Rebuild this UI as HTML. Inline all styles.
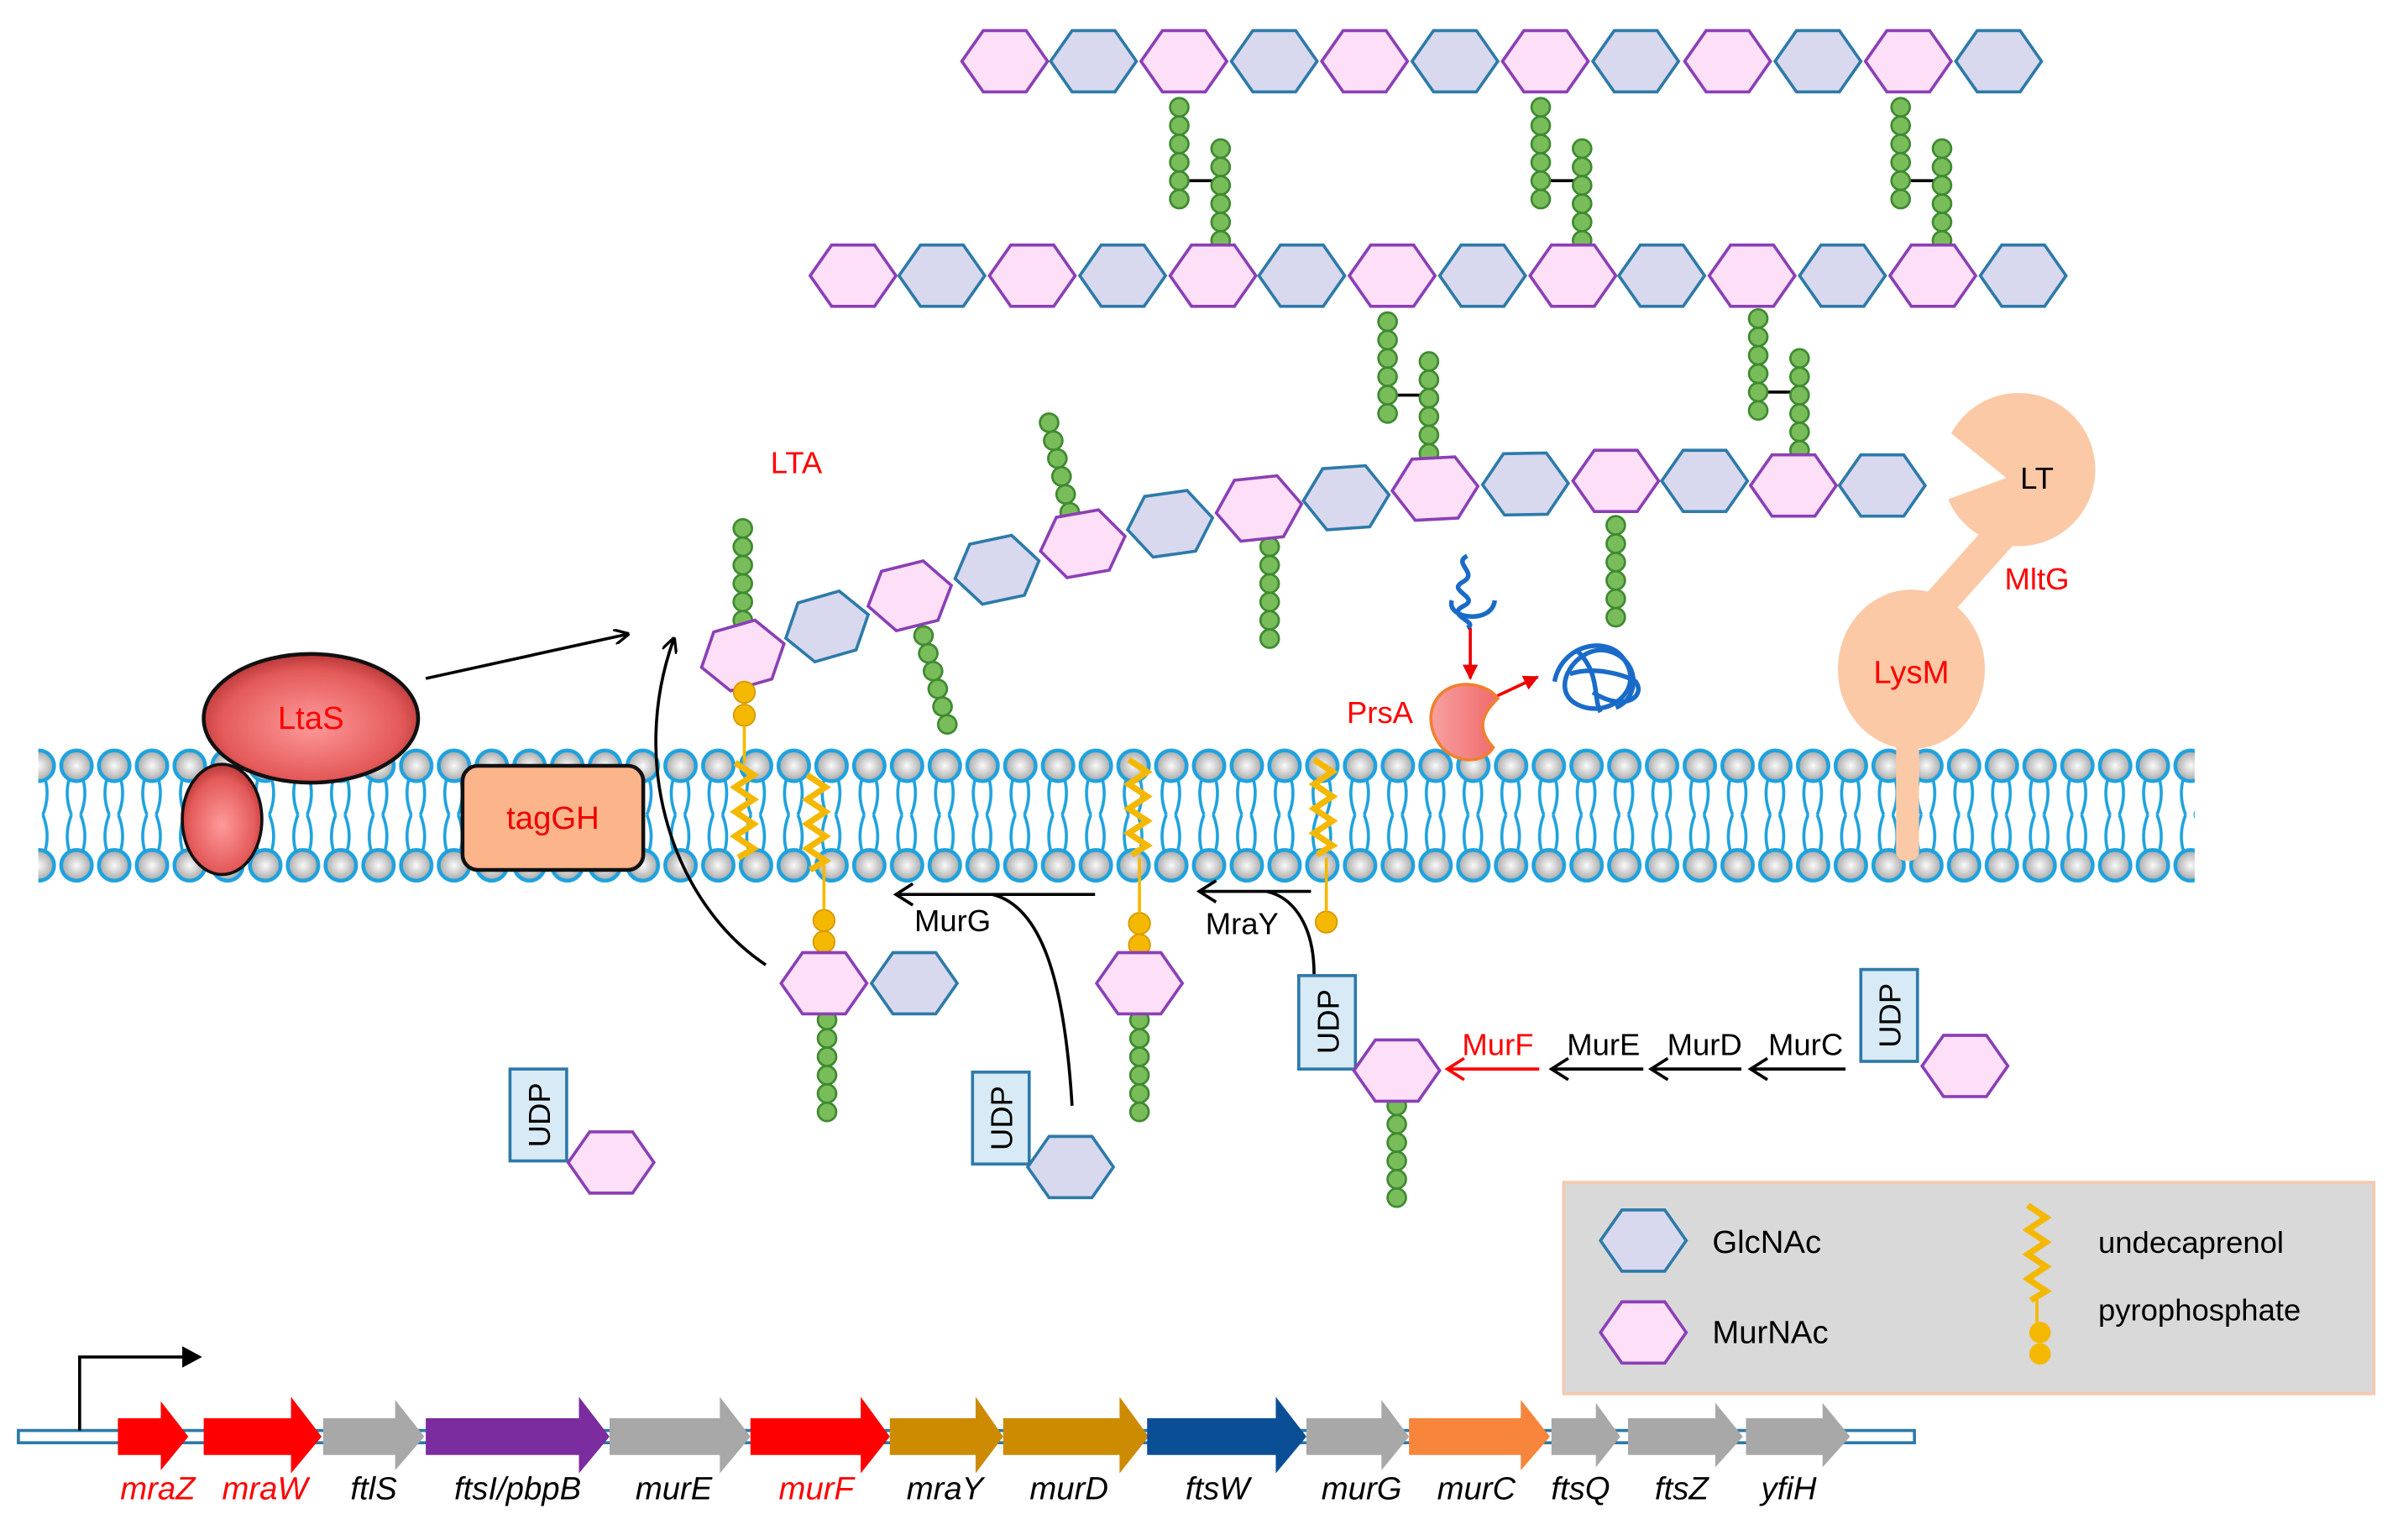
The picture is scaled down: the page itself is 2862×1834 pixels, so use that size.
<!DOCTYPE html>
<html><head><meta charset="utf-8"><style>
html,body{margin:0;padding:0;background:#fff;}
svg{display:block;font-family:"Liberation Sans",Arial,sans-serif;}
</style></head><body>
<svg width="2862" height="1834" viewBox="0 0 1569 1005.5" preserveAspectRatio="none" xmlns="http://www.w3.org/2000/svg">
<defs>
<radialGradient id="hg" cx="0.5" cy="0.5" r="0.5"><stop offset="0" stop-color="#fafafa"/><stop offset="1" stop-color="#a8a8a8"/></radialGradient>
<radialGradient id="rg" cx="0.5" cy="0.55" r="0.6"><stop offset="0" stop-color="#ff9a9a"/><stop offset="0.7" stop-color="#e45a5a"/><stop offset="1" stop-color="#a82a2a"/></radialGradient>
<linearGradient id="pg" x1="0" x2="1"><stop offset="0" stop-color="#f7a0a0"/><stop offset="1" stop-color="#f06a6a"/></linearGradient>
<pattern id="mem" patternUnits="userSpaceOnUse" x="13" y="485" width="24.65" height="95">
<g fill="none" stroke="#1fa2de" stroke-width="2">
<path d="M8,22 Q4,34 9,47 M16,22 Q20,34 15,47 M8,72 Q4,60 9,47 M16,72 Q20,60 15,47"/>
</g>
<circle cx="12.3" cy="15" r="10" fill="url(#hg)" stroke="#1fa2de" stroke-width="2.5"/>
<circle cx="12.3" cy="80" r="10" fill="url(#hg)" stroke="#1fa2de" stroke-width="2.5"/>
</pattern>
<polygon id="hx" points="-28,0 -14,-20 14,-20 28,0 14,20 -14,20"/>
<g id="P"><use href="#hx" fill="#fde0f8" stroke="#8b3fb5" stroke-width="2"/></g>
<g id="B"><use href="#hx" fill="#d8d8ef" stroke="#2d7aa8" stroke-width="2"/></g>
<g id="bd"><circle r="6" fill="#79bd5a" stroke="#3f8a32" stroke-width="1.5"/></g>
<g id="ch5"><use href="#bd" y="0"/><use href="#bd" y="12"/><use href="#bd" y="24"/><use href="#bd" y="36"/><use href="#bd" y="48"/><use href="#bd" y="60"/></g>
<g id="zz"><path d="M-6,0 L6,8 L-6,16 L6,24 L-6,32 L6,40 L-6,48 L6,56 L-4,62" fill="none" stroke="#f5b800" stroke-width="4"/></g>
<marker id="ah" markerWidth="10" markerHeight="10" refX="9" refY="5" orient="auto" markerUnits="userSpaceOnUse"><path d="M0,0 L10,5 L0,10" fill="none" stroke="#000" stroke-width="1.8"/></marker>
<marker id="ahb" markerWidth="14" markerHeight="16" refX="12" refY="8" orient="auto" markerUnits="userSpaceOnUse"><path d="M1,1 L12,8 L1,15" fill="none" stroke="#000" stroke-width="2"/></marker>
<marker id="ahr" markerWidth="14" markerHeight="16" refX="12" refY="8" orient="auto" markerUnits="userSpaceOnUse"><path d="M1,1 L12,8 L1,15" fill="none" stroke="#f00" stroke-width="2"/></marker>
<marker id="rf" markerWidth="10" markerHeight="10" refX="9" refY="5" orient="auto" markerUnits="userSpaceOnUse"><path d="M0,0 L10,5 L0,10z" fill="#e00"/></marker>
</defs>

<g>
<line x1="770" y1="118" x2="797" y2="118" stroke="#000" stroke-width="2"/>
<line x1="1006" y1="118" x2="1033" y2="118" stroke="#000" stroke-width="2"/>
<line x1="1241" y1="118" x2="1268" y2="118" stroke="#000" stroke-width="2"/>
<line x1="906" y1="258" x2="933" y2="258" stroke="#000" stroke-width="2"/>
<line x1="1148" y1="256" x2="1175" y2="256" stroke="#000" stroke-width="2"/>
<use href="#ch5" x="770" y="70"/><use href="#ch5" x="797" y="97"/>
<use href="#ch5" x="1006" y="70"/><use href="#ch5" x="1033" y="97"/>
<use href="#ch5" x="1241" y="70"/><use href="#ch5" x="1268" y="97"/>
<use href="#ch5" x="906" y="210"/><use href="#ch5" x="933" y="236"/>
<use href="#ch5" x="1148" y="208"/><use href="#ch5" x="1175" y="234"/>
</g>
<g>
<use href="#P" x="656" y="40"/><use href="#B" x="714" y="40"/><use href="#P" x="773" y="40"/><use href="#B" x="832" y="40"/>
<use href="#P" x="891" y="40"/><use href="#B" x="950" y="40"/><use href="#P" x="1009" y="40"/><use href="#B" x="1068" y="40"/>
<use href="#P" x="1128" y="40"/><use href="#B" x="1187" y="40"/><use href="#P" x="1246" y="40"/><use href="#B" x="1305" y="40"/>
</g>
<g>
<use href="#P" x="557" y="180"/><use href="#B" x="615" y="180"/><use href="#P" x="674" y="180"/><use href="#B" x="733" y="180"/>
<use href="#P" x="792" y="180"/><use href="#B" x="850" y="180"/><use href="#P" x="909" y="180"/><use href="#B" x="968" y="180"/>
<use href="#P" x="1027" y="180"/><use href="#B" x="1085" y="180"/><use href="#P" x="1144" y="180"/><use href="#B" x="1203" y="180"/>
<use href="#P" x="1262" y="180"/><use href="#B" x="1321" y="180"/>
</g>
<use href="#ch5" x="485" y="345"/>
<g transform="translate(685,276) rotate(-13)"><use href="#ch5"/></g>
<g transform="translate(603,415) rotate(-15)"><use href="#ch5"/></g>
<use href="#ch5" x="829" y="357"/>
<use href="#ch5" x="1055" y="343"/>
<g>
<g transform="translate(485,428) rotate(-16)"><use href="#P"/></g>
<g transform="translate(540,409) rotate(-16)"><use href="#B"/></g>
<g transform="translate(594,389) rotate(-14)"><use href="#P"/></g>
<g transform="translate(651,372) rotate(-12)"><use href="#B"/></g>
<g transform="translate(707,355) rotate(-10)"><use href="#P"/></g>
<g transform="translate(764,342) rotate(-8)"><use href="#B"/></g>
<g transform="translate(822,332) rotate(-6)"><use href="#P"/></g>
<g transform="translate(879,325) rotate(-4)"><use href="#B"/></g>
<g transform="translate(937,319) rotate(-3)"><use href="#P"/></g>
<g transform="translate(996,316) rotate(-1)"><use href="#B"/></g>
<use href="#P" x="1055" y="314"/><use href="#B" x="1113" y="314"/><use href="#P" x="1171" y="317"/><use href="#B" x="1229" y="317"/>
</g>
<text x="520" y="309" font-size="20" fill="#f00" text-anchor="middle">LTA</text>

<rect x="25" y="485" width="1408" height="95" fill="url(#mem)"/>

<g fill="#fcc9a6">
<path d="M1318,305 m-44,-22 A50,50 0 1 1 1272,326 L1310,312 Z"/>
<path d="M1300,340 L1318,352 L1268,408 L1250,396 Z"/>
<ellipse cx="1248" cy="437" rx="48" ry="52"/>
<rect x="1238" y="480" width="15" height="82" rx="6"/>
</g>
<text x="1330" y="319" font-size="20" text-anchor="middle">LT</text>
<text x="1330" y="385" font-size="20" fill="#f00" text-anchor="middle">MltG</text>
<text x="1248" y="446" font-size="21" fill="#f00" text-anchor="middle">LysM</text>

<ellipse cx="145" cy="535" rx="26" ry="36" fill="url(#rg)" stroke="#111" stroke-width="2"/>
<ellipse cx="203" cy="469" rx="70" ry="42" fill="url(#rg)" stroke="#111" stroke-width="2.5"/>
<text x="203" y="476" font-size="21" fill="#f00" text-anchor="middle">LtaS</text>
<rect x="302" y="500" width="118" height="68" rx="10" fill="#fcb48a" stroke="#111" stroke-width="2.5"/>
<text x="361" y="541" font-size="21" fill="#e00" text-anchor="middle">tagGH</text>
<line x1="278" y1="443" x2="410" y2="414" stroke="#000" stroke-width="2" marker-end="url(#ah)"/>
<path d="M500,630 C440,590 410,500 440,417" fill="none" stroke="#000" stroke-width="2" marker-end="url(#ah)"/>

<g fill="#f5b800" stroke="#d59a00" stroke-width="1">
<circle cx="486" cy="452" r="7"/><circle cx="486" cy="467" r="7"/>
<circle cx="538" cy="601" r="7"/><circle cx="538" cy="615" r="7"/>
<circle cx="744" cy="603" r="7"/><circle cx="744" cy="617" r="7"/>
<circle cx="866" cy="602" r="7"/>
</g>
<g stroke="#f5b800" stroke-width="2">
<line x1="486" y1="474" x2="486" y2="498"/>
<line x1="538" y1="565" x2="538" y2="594"/>
<line x1="744" y1="560" x2="744" y2="596"/>
<line x1="866" y1="560" x2="866" y2="595"/>
</g>
<use href="#zz" x="486" y="498"/><use href="#zz" x="533" y="506"/><use href="#zz" x="743" y="496"/><use href="#zz" x="864" y="496"/>
<use href="#ch5" x="540" y="666"/><use href="#P" x="538" y="642"/><use href="#B" x="597" y="642"/>
<use href="#ch5" x="744" y="666"/><use href="#P" x="744" y="642"/>

<line x1="715" y1="584" x2="585" y2="584" stroke="#000" stroke-width="2" marker-end="url(#ahb)"/>
<path d="M700,722 C695,640 680,592 648,584" fill="none" stroke="#000" stroke-width="2"/>
<text x="622" y="608" font-size="20" text-anchor="middle">MurG</text>
<line x1="856" y1="582" x2="783" y2="582" stroke="#000" stroke-width="2" marker-end="url(#ahb)"/>
<path d="M858,636 C858,605 845,586 827,582" fill="none" stroke="#000" stroke-width="2"/>
<text x="811" y="610" font-size="20" text-anchor="middle">MraY</text>

<g fill="#d8eaf6" stroke="#2d7aa8" stroke-width="2">
<rect x="333" y="698" width="37" height="60"/>
<rect x="635" y="700" width="37" height="60"/>
<rect x="848" y="637" width="37" height="61"/>
<rect x="1215" y="633" width="37" height="60"/>
</g>
<g font-size="20" text-anchor="middle">
<text transform="translate(359,728) rotate(-90)">UDP</text>
<text transform="translate(661,730) rotate(-90)">UDP</text>
<text transform="translate(874,667) rotate(-90)">UDP</text>
<text transform="translate(1241,663) rotate(-90)">UDP</text>
</g>
<use href="#P" x="399" y="759"/><use href="#B" x="699" y="762"/>
<use href="#ch5" x="912" y="722"/><use href="#P" x="912" y="699"/>
<use href="#P" x="1283" y="696"/>

<line x1="1005" y1="698" x2="945" y2="698" stroke="#f00" stroke-width="2" marker-end="url(#ahr)"/>
<line x1="1073" y1="698" x2="1013" y2="698" stroke="#000" stroke-width="2" marker-end="url(#ahb)"/>
<line x1="1137" y1="698" x2="1078" y2="698" stroke="#000" stroke-width="2" marker-end="url(#ahb)"/>
<line x1="1205" y1="698" x2="1143" y2="698" stroke="#000" stroke-width="2" marker-end="url(#ahb)"/>
<g font-size="20" text-anchor="middle">
<text x="978" y="689" fill="#f00">MurF</text>
<text x="1047" y="689">MurE</text>
<text x="1113" y="689">MurD</text>
<text x="1179" y="689">MurC</text>
</g>

<path d="M958,363 C948,368 966,374 955,380 C944,386 968,390 955,396 C944,402 966,406 958,410 M948,392 C944,404 974,408 976,392" fill="none" stroke="#1a6bc8" stroke-width="3"/>
<line x1="960" y1="410" x2="960" y2="443" stroke="#e00" stroke-width="2" marker-end="url(#rf)"/>
<line x1="974" y1="456" x2="1004" y2="442" stroke="#e00" stroke-width="2" marker-end="url(#rf)"/>
<path d="M945,450 C955,444 972,447 978,456 C970,464 962,474 975,488 C968,500 948,498 940,486 C930,472 934,456 945,450 Z" fill="url(#pg)" stroke="#f08030" stroke-width="2"/>
<text x="901" y="472" font-size="20" fill="#f00" text-anchor="middle">PrsA</text>
<g fill="none" stroke="#1a6bc8" stroke-width="3">
<path d="M1015,445 C1020,420 1050,415 1060,430 C1075,450 1050,470 1030,460 C1010,450 1030,420 1050,425 C1070,430 1072,455 1055,462 M1030,425 C1045,440 1040,455 1045,465"/>
<path d="M1025,440 C1040,435 1060,440 1068,445 C1075,455 1060,465 1040,452"/>
</g>

<rect x="1021" y="772" width="529" height="138" fill="#d9d9d9" stroke="#f5c9b0" stroke-width="2"/>
<use href="#B" x="1073" y="810"/><use href="#P" x="1073" y="870"/>
<text x="1118" y="818" font-size="21">GlcNAc</text>
<text x="1118" y="877" font-size="21">MurNAc</text>
<use href="#zz" x="1330" y="787"/>
<line x1="1330" y1="845" x2="1330" y2="866" stroke="#f5b800" stroke-width="2"/>
<circle cx="1332" cy="870" r="7" fill="#f5b800"/><circle cx="1332" cy="884" r="7" fill="#f5b800"/>
<text x="1370" y="818" font-size="20">undecaprenol</text>
<text x="1370" y="862" font-size="20">pyrophosphate</text>

<rect x="12" y="934" width="1238" height="8" fill="#fff" stroke="#2d7aa8" stroke-width="2"/>
<path d="M52,934 V886 H120" fill="none" stroke="#000" stroke-width="2"/>
<path d="M119,879 L132,886 L119,893 Z" fill="#000"/>
<g>
<path d="M77,926 H105 V915 L123,938 L105,960 V950 H77 Z" fill="#f00"/>
<path d="M133,926 H190 V912 L210,938 L190,962 V950 H133 Z" fill="#f00"/>
<path d="M211,926 H258 V914 L277,938 L258,960 V950 H211 Z" fill="#a8a8a8"/>
<path d="M278,926 H378 V912 L398,938 L378,962 V950 H278 Z" fill="#7b2c9e"/>
<path d="M398,926 H470 V912 L490,938 L470,962 V950 H398 Z" fill="#a8a8a8"/>
<path d="M490,926 H562 V912 L581,938 L562,962 V950 H490 Z" fill="#f00"/>
<path d="M581,926 H637 V912 L655,938 L637,962 V950 H581 Z" fill="#cc8b00"/>
<path d="M655,926 H731 V912 L750,938 L731,962 V950 H655 Z" fill="#cc8b00"/>
<path d="M749,926 H833 V912 L853,938 L833,962 V950 H749 Z" fill="#0a4e96"/>
<path d="M853,926 H902 V914 L920,938 L902,960 V950 H853 Z" fill="#a8a8a8"/>
<path d="M920,926 H993 V914 L1012,938 L993,960 V950 H920 Z" fill="#f7853b"/>
<path d="M1013,926 H1042 V916 L1058,938 L1042,958 V950 H1013 Z" fill="#a8a8a8"/>
<path d="M1063,926 H1120 V916 L1138,938 L1120,958 V950 H1063 Z" fill="#a8a8a8"/>
<path d="M1140,926 H1190 V916 L1208,938 L1190,958 V950 H1140 Z" fill="#a8a8a8"/>
</g>
<g font-size="21" font-style="italic" text-anchor="middle">
<text x="103" y="979" fill="#f00">mraZ</text>
<text x="173" y="979" fill="#f00">mraW</text>
<text x="244" y="979">ftlS</text>
<text x="338" y="979">ftsI/pbpB</text>
<text x="440" y="979">murE</text>
<text x="533" y="979" fill="#f00">murF</text>
<text x="617" y="979">mraY</text>
<text x="698" y="979">murD</text>
<text x="795" y="979">ftsW</text>
<text x="889" y="979">murG</text>
<text x="964" y="979">murC</text>
<text x="1032" y="979">ftsQ</text>
<text x="1098" y="979">ftsZ</text>
<text x="1168" y="979">yfiH</text>
</g>
</svg>
</body></html>
